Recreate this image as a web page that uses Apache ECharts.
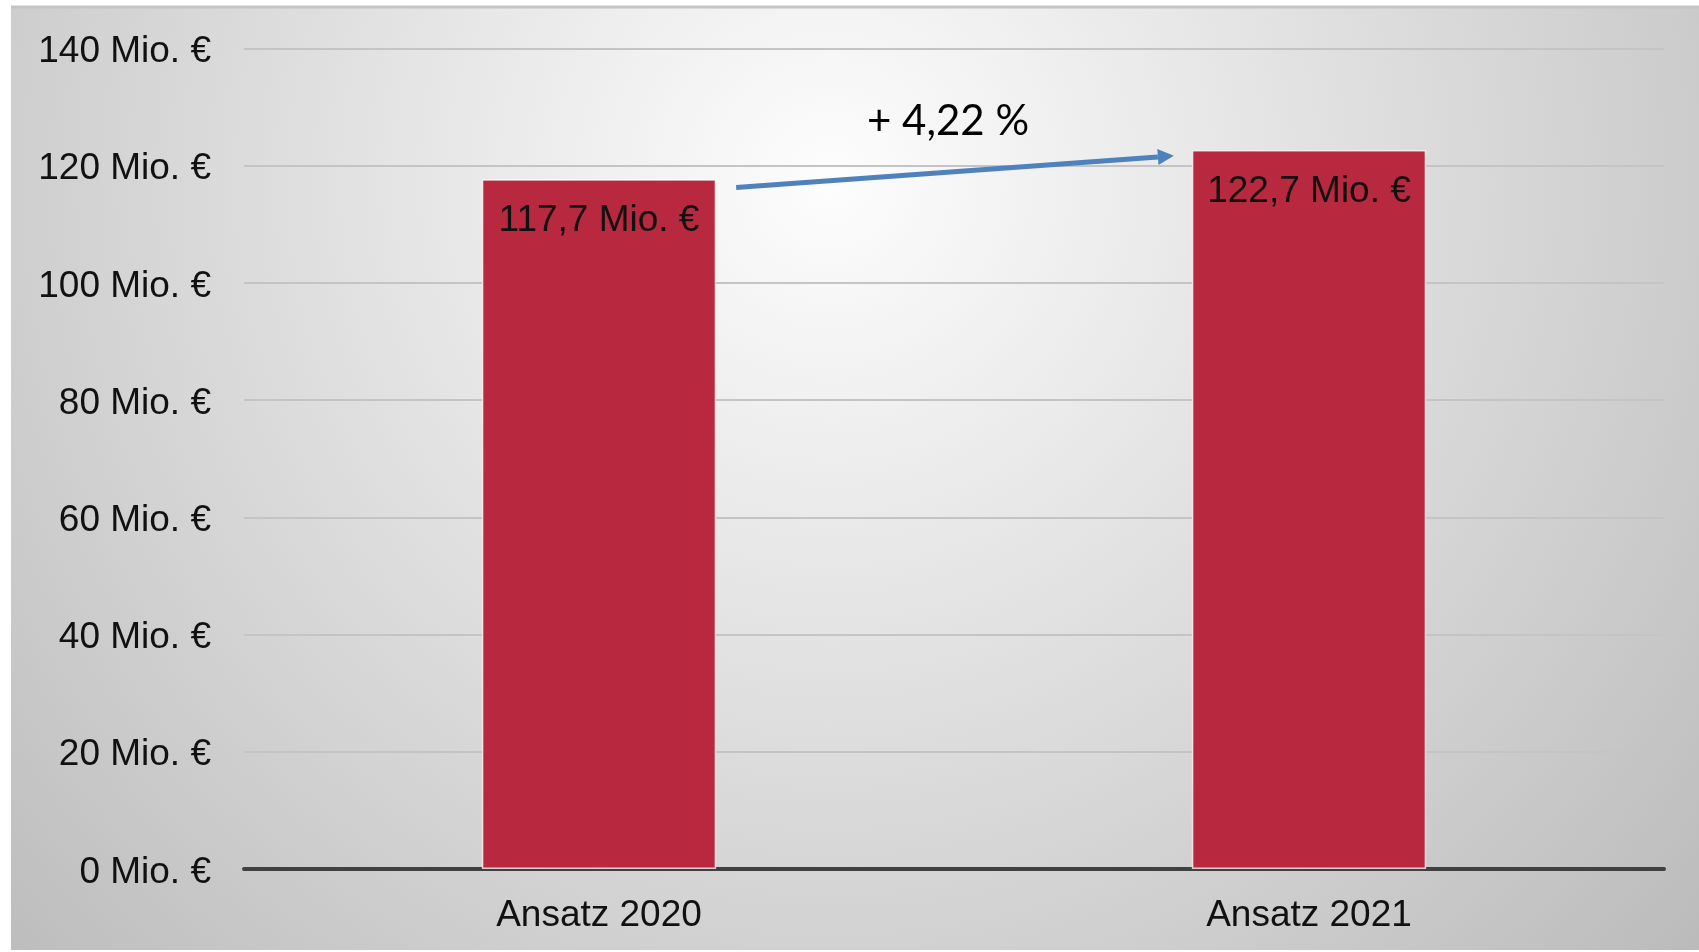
<!DOCTYPE html>
<html>
<head>
<meta charset="utf-8">
<script src="https://cdn.jsdelivr.net/npm/echarts@6/dist/echarts.min.js"></script>
<style>
  html, body { margin: 0; padding: 0; background: #fff; }
  #main { width: 1699px; height: 952px; }
</style>
</head>
<body>
<div id="main"></div>
<script>
// Daten
var categories = ['Ansatz 2020', 'Ansatz 2021'];
var values = [117.7, 122.7];
var yTicks = [0, 20, 40, 60, 80, 100, 120, 140];
var changeLabel = '+ 4,22 %';

var textFont = 'Liberation Sans, Arial, sans-serif';

function mio(v, dec) {
  return (dec ? v.toFixed(1).replace('.', ',') : v) + ' Mio. €';
}

var myChart = echarts.init(document.getElementById('main'));

var option = {
  animation: false,
  backgroundColor: '#ffffff',
  grid: { left: 244, right: 35, top: 48.5, bottom: 83 },
  xAxis: {
    type: 'category',
    data: categories,
    axisLine: { lineStyle: { color: '#404040', width: 4 } },
    axisTick: { show: false },
    axisLabel: { margin: 28, fontSize: 37, color: '#111', fontFamily: textFont }
  },
  yAxis: {
    type: 'value',
    min: yTicks[0],
    max: yTicks[yTicks.length - 1],
    interval: 20,
    axisLine: { show: false },
    axisTick: { show: false },
    splitLine: { lineStyle: { color: '#c4c4c4', width: 2 } },
    axisLabel: {
      margin: 33, fontSize: 37, color: '#111', fontFamily: textFont,
      formatter: function (v) { return '{a|' + mio(v) + '}'; },
      rich: { a: { fontSize: 37, color: '#111', fontFamily: textFont, padding: [7, 0, 0, 0] } }
    }
  },
  series: [{
    type: 'bar',
    data: values,
    barWidth: '33%',
    itemStyle: { color: '#b8283f', borderColor: 'rgba(255,255,255,0.75)', borderWidth: 1.5 },
    label: {
      show: true,
      position: 'insideTop',
      distance: 23,
      fontSize: 37,
      color: '#111',
      fontFamily: textFont,
      formatter: function (p) { return mio(p.value, true); }
    },
    z: 3
  }],
  graphic: [
    // Hintergrund mit radialem Verlauf
    {
      type: 'rect', z: -10, silent: true,
      shape: { x: 11, y: 6, width: 1688, height: 944 },
      style: {
        fill: {
          type: 'radial', x: 830, y: 180, r: 1160, global: true,
          colorStops: [{ offset: 0, color: '#fdfdfd' }, { offset: 1, color: '#bbbbbb' }]
        }
      }
    },
    {
      type: 'line', z: -9, silent: true,
      shape: { x1: 11, y1: 7, x2: 1699, y2: 7 },
      style: { stroke: '#c4c4c4', lineWidth: 3 }
    }
  ]
};

myChart.setOption(option);

// Pfeil zwischen den Balken
var c0 = myChart.convertToPixel({ seriesIndex: 0 }, [0, values[0] - 1.4]);
var c1 = myChart.convertToPixel({ seriesIndex: 0 }, [1, values[1] - 1.0]);
var bandW = myChart.convertToPixel({ xAxisIndex: 0 }, 1) - myChart.convertToPixel({ xAxisIndex: 0 }, 0);
var halfBar = bandW * 0.33 / 2;
var x1 = c0[0] + halfBar + 20, y1 = c0[1];
var x2 = c1[0] - halfBar - 18, y2 = c1[1];
var ang = Math.atan2(y2 - y1, x2 - x1);
var headLen = 16, headW = 8;
var bx = x2 - headLen * Math.cos(ang), by = y2 - headLen * Math.sin(ang);
var nx = -Math.sin(ang), ny = Math.cos(ang);
var labelPos = myChart.convertToPixel({ seriesIndex: 0 }, [0, 127.6]);

myChart.setOption({
  graphic: option.graphic.concat([
    {
      type: 'line', z: 10, silent: true,
      shape: { x1: x1, y1: y1, x2: bx, y2: by },
      style: { stroke: '#4f81bd', lineWidth: 5 }
    },
    {
      type: 'polygon', z: 10, silent: true,
      shape: { points: [[x2, y2], [bx + nx * headW, by + ny * headW], [bx - nx * headW, by - ny * headW]] },
      style: { fill: '#4f81bd' }
    },
    {
      type: 'text', z: 10, silent: true,
      x: (c0[0] + c1[0]) / 2 - 6, y: labelPos[1],
      style: {
        text: changeLabel, fill: '#000',
        font: '42px Lato, "Open Sans", sans-serif',
        align: 'center', verticalAlign: 'middle'
      }
    }
  ])
});
</script>
</body>
</html>
